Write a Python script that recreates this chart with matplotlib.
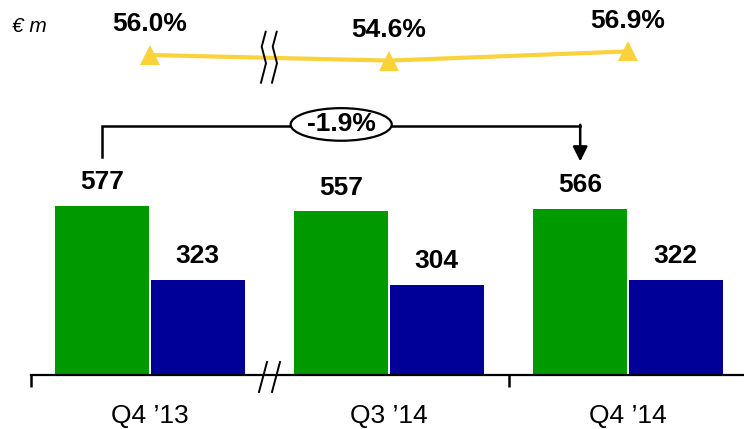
import numpy as np
import matplotlib
matplotlib.use('Agg')
import matplotlib.pyplot as plt
from matplotlib.patches import Ellipse
from matplotlib.lines import Line2D

plt.rcParams['font.family'] = ['Liberation Sans', 'DejaVu Sans']

quarters = ['Q4 \u201913', 'Q3 \u201914', 'Q4 \u201914']
green_vals = [577, 557, 566]
blue_vals = [323, 304, 322]
margin_pct = [56.0, 54.6, 56.9]
change_label = '-1.9%'

GREEN = '#009900'
BLUE = '#000099'
YELLOW = '#FAD23C'
FS = 19

W, H = 744, 429
fig = plt.figure(figsize=(W / 100, H / 100), dpi=100)

# x mapping: group centres at 150px, spacing 239px
x_lim = (-150 / 239, (W - 150) / 239)
x = np.arange(len(quarters))

# --- bars ---
base_px = 375
ax = fig.add_axes([0, (H - base_px) / H, 1, base_px / H])
px_per_unit = 0.291
ax.set_xlim(*x_lim)
ax.set_ylim(-5, (base_px - 5 * px_per_unit) / px_per_unit)

bw = 0.392
b1 = ax.bar(x - 0.2, green_vals, bw, color=GREEN)
b2 = ax.bar(x + 0.2, blue_vals, bw, color=BLUE)
for bars, vals in ((b1, green_vals), (b2, blue_vals)):
    for rect, v in zip(bars, vals):
        ax.annotate(f'{v}', (rect.get_x() + rect.get_width() / 2, v),
                    xytext=(0, 17), textcoords='offset points',
                    ha='center', va='center', fontsize=FS, fontweight='bold')

for s in ['top', 'right', 'left']:
    ax.spines[s].set_visible(False)
ax.spines['bottom'].set_linewidth(1.6)
ax.spines['bottom'].set_bounds(-0.5, x_lim[1])
ax.set_yticks([])
ax.set_xticks([-0.5, 1.5], labels=['', ''])
ax.tick_params(axis='x', which='major', length=8.5, width=1.8, direction='out')
ax.set_xticks(x, labels=quarters, minor=True)
ax.tick_params(axis='x', which='minor', length=0, pad=21, labelsize=FS)

# change bracket
y_top = 852
ax.plot([-0.2, -0.2, 1.8], [green_vals[0] + 166, y_top, y_top], color='black', lw=1.8,
        solid_joinstyle='miter')
ax.annotate('', xy=(1.8, green_vals[2] + 163), xytext=(1.8, y_top + 3),
            arrowprops=dict(arrowstyle='-|>', color='black', lw=1.8,
                            mutation_scale=22, shrinkA=0, shrinkB=0))
ax.add_patch(Ellipse((0.8, y_top + 4), 0.423, 112, facecolor='white',
                     edgecolor='black', lw=1.6, zorder=5))
ax.text(0.8, y_top + 4, change_label, ha='center', va='center',
        fontsize=FS, fontweight='bold', zorder=6)

# axis break marks
for dx in (0, 13):
    fig.add_artist(Line2D([(267 + dx) / W, (259 + dx) / W],
                          [1 - 362 / H, 1 - 392 / H], color='black', lw=1.4))

# --- margin line ---
lax = fig.add_axes([0, 1 - 100 / H, 1, 100 / H])
lax.set_xlim(*x_lim)
lax.set_ylim(44.75, 69.75)
lax.axis('off')
lax.plot(x, margin_pct, color=YELLOW, lw=3, marker='^', ms=15,
         markeredgewidth=0, zorder=3)
for xi, v in zip(x, margin_pct):
    lax.annotate(f'{v:.1f}%', (xi, v), xytext=(0, 22), textcoords='offset points',
                 ha='center', va='center', fontsize=FS, fontweight='bold')

# zigzag break on line
for dx in (0, 11):
    xs = [265.7 + dx, 261.7 + dx, 266 + dx, 261 + dx]
    ys = [31.7, 46.7, 63.3, 82.7]
    fig.add_artist(Line2D([v / W for v in xs], [1 - v / H for v in ys],
                          color='black', lw=1.4, zorder=5))

fig.text(12 / W, 1 - 27 / H, '\u20ac m', ha='left', va='center',
         fontsize=15, fontstyle='italic')

fig.savefig('out.png', dpi=100)
